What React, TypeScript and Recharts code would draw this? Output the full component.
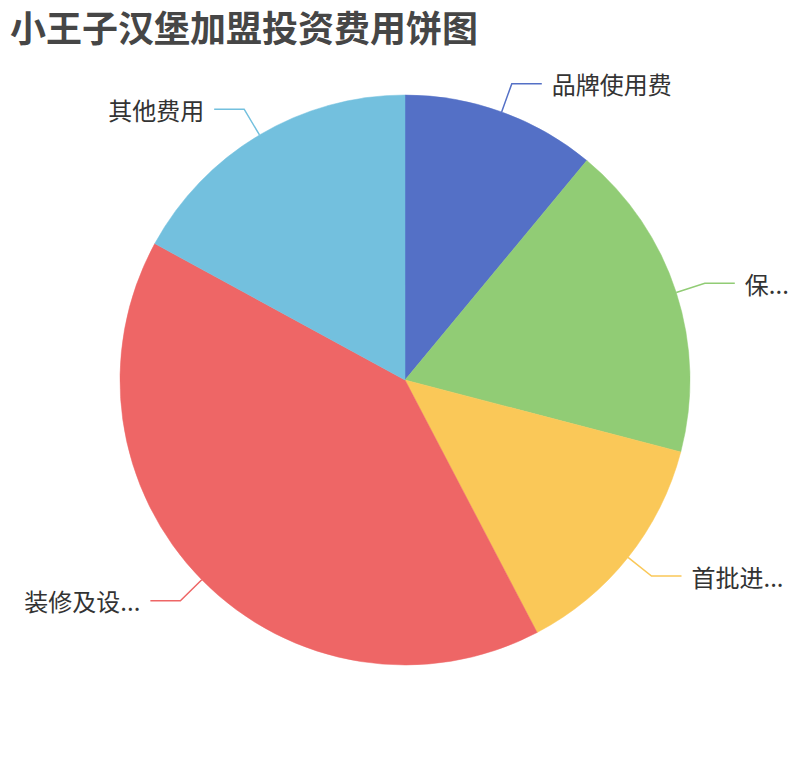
import { PieChart, Pie, Cell } from 'recharts'

// 单位：万元
const categories = ['品牌使用费', '保证金', '首批进货费', '装修及设备费', '其他费用']
const shownLabels = ['品牌使用费', '保...', '首批进...', '装修及设...', '其他费用']
const amounts = [2.44, 4.0, 2.94, 9.0, 3.78]
const colors = ['#5470c6', '#91cc75', '#fac858', '#ee6666', '#73c0de']

const data = categories.map((name, i) => ({ name, value: amounts[i], label: shownLabels[i] }))

const RADIAN = Math.PI / 180

function renderLabel(props: any) {
  const { cx, cy, midAngle, outerRadius, index } = props
  const cos = Math.cos(-midAngle * RADIAN)
  const sin = Math.sin(-midAngle * RADIAN)
  const sx = cx + outerRadius * cos
  const sy = cy + outerRadius * sin
  const mx = cx + (outerRadius + 30) * cos
  const my = cy + (outerRadius + 30) * sin
  const right = cos >= 0
  const ex = mx + (right ? 30 : -30)
  const tx = ex + (right ? 10 : -10)
  return (
    <g key={`lbl-${index}`}>
      <polyline points={`${sx},${sy} ${mx},${my} ${ex},${my}`} fill="none" stroke={colors[index]} strokeWidth={1.5} />
      <text x={tx} y={my} textAnchor={right ? 'start' : 'end'} dominantBaseline="central"
        fill="#333" fontSize={24} fontFamily="'Noto Sans CJK SC', 'Noto Sans', sans-serif">
        {shownLabels[index]}
      </text>
    </g>
  )
}

export default function App() {
  return (
    <div style={{ position: 'absolute', left: 0, top: 0, width: 810, height: 760, background: '#fff' }}>
      <div style={{ position: 'absolute', left: 10, top: 1, fontSize: 36, fontWeight: 700, color: '#464646',
        fontFamily: "'Noto Sans CJK SC', sans-serif", lineHeight: '50px', whiteSpace: 'nowrap' }}>
        小王子汉堡加盟投资费用饼图
      </div>
      <PieChart width={810} height={760} margin={{ top: 0, right: 0, bottom: 0, left: 0 }}>
        <Pie data={data} dataKey="value" nameKey="name" cx={405} cy={380} outerRadius={285}
          startAngle={90} endAngle={-270} label={renderLabel} labelLine={false} isAnimationActive={false}>
          {data.map((d, i) => (
            <Cell key={d.name} fill={colors[i]} stroke={colors[i]} strokeWidth={0.5} />
          ))}
        </Pie>
      </PieChart>
    </div>
  )
}
